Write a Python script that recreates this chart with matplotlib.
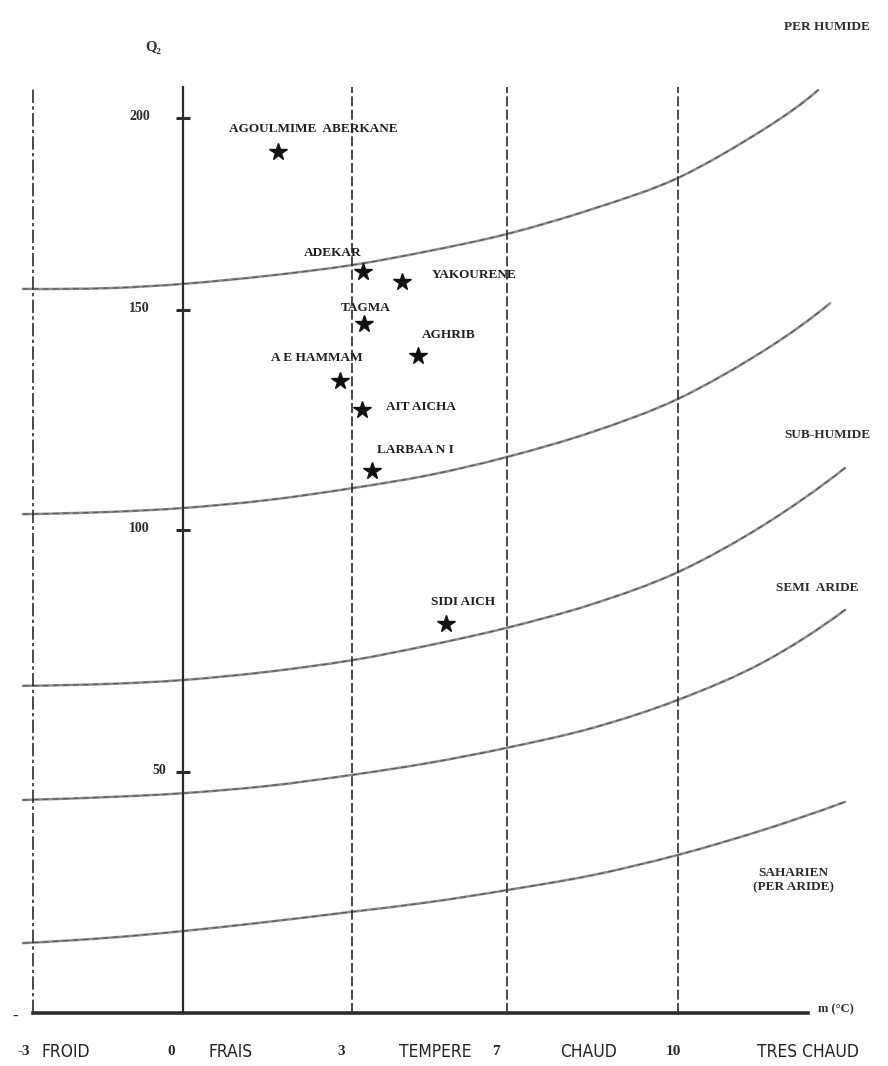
import numpy as np
import matplotlib
matplotlib.use("Agg")
import matplotlib.pyplot as plt
from matplotlib.path import Path
from matplotlib.patches import PathPatch

# ---------------- data ----------------
STATIONS = ["AGOULMIME  ABERKANE", "ADEKAR", "YAKOURENE", "TAGMA", "AGHRIB",
            "A E HAMMAM", "AIT AICHA", "LARBAA N I", "SIDI AICH"]
STATION_M = [1.69, 3.28, 4.29, 3.31, 4.70, 2.79, 3.26, 3.52, 5.43]
STATION_Q = [191.1, 159.9, 157.3, 146.8, 139.5, 133.9, 127.3, 113.4, 80.6]

M_BOUNDS = [-3, 0, 3, 7, 10]
M_TICK_LABELS = ["-3", "0", "3", "7", "10"]
Q_TICKS = [50, 100, 150, 200]
Q_TICK_LABELS = ["50", "100", "150", "200"]
ZONES_M = ["FROID", "FRAIS", "TEMPERE", "CHAUD", "TRES CHAUD"]
ZONES_Q = ["PER HUMIDE", "SUB-HUMIDE", "SEMI  ARIDE", "SAHARIEN\n(PER ARIDE)"]

M_SAMPLE = [-3.2, -1.5, 0.0, 1.5, 3.0, 5.0, 7.0, 8.5, 10.0, 11.5]
CURVE_END_M = [12.46, 12.67, 12.93, 12.93, 12.93]
CURVE_Q = [
    [155.5, 155.7, 156.8, 158.9, 161.7, 165.4, 169.8, 176.3, 184.4, 197.0, 207.3],
    [103.6, 104.1, 105.0, 106.8, 109.5, 112.5, 116.6, 122.3, 129.8, 140.7, 151.8],
    [67.8, 68.2, 69.0, 70.7, 73.1, 76.2, 79.8, 84.7, 91.3, 101.1, 114.1],
    [44.2, 44.8, 45.6, 47.1, 49.4, 51.9, 55.0, 59.1, 64.9, 72.7, 83.5],
    [14.5, 15.6, 17.0, 18.9, 21.0, 23.0, 25.5, 28.6, 32.8, 38.0, 43.8],
]
Q_TOP = 208.0
M_AXIS_END = 12.28

# ---------------- layout ----------------
W, H = 888, 1066
X_KNOT_PX = [33, 183, 352, 507, 678]          # where m = -3,0,3,7,10 sit
Y_KNOT_Q = [0, 50, 100, 150, 200]
Y_KNOT_PX = [1013, 772, 530, 310, 118]


def piecewise(kd, kp):
    kd = np.asarray(kd, float)
    kp = np.asarray(kp, float)

    def f(v, a=kd, b=kp):
        v = np.asarray(v, float)
        out = np.interp(v, a, b)
        s0 = (b[1] - b[0]) / (a[1] - a[0])
        s1 = (b[-1] - b[-2]) / (a[-1] - a[-2])
        out = np.where(v < a[0], b[0] + (v - a[0]) * s0, out)
        out = np.where(v > a[-1], b[-1] + (v - a[-1]) * s1, out)
        return out

    def g(p, a=kd, b=kp):
        return f(p, b, a)
    return f, g


fx, ix = piecewise(M_BOUNDS, X_KNOT_PX)
fy, iy = piecewise(Y_KNOT_Q, [-p for p in Y_KNOT_PX])

plt.rcParams['font.family'] = ['Liberation Serif', 'DejaVu Serif']
fig = plt.figure(figsize=(W / 100, H / 100), dpi=100)
ax = fig.add_axes([0, 0, 1, 1])
ax.set_xscale('function', functions=(fx, ix))
ax.set_yscale('function', functions=(fy, iy))
ax.set_xlim(float(ix(0)), float(ix(W)))
ax.set_ylim(float(iy(-H)), float(iy(0)))
ax.axis('off')

INK = '#2b2b2b'


def smooth_path(xs, ys):
    """Cubic Hermite spline through the read points, built in display space."""
    p = ax.transData.transform(np.column_stack([xs, ys]))
    n = len(p)
    T = np.zeros_like(p)
    T[1:-1] = (p[2:] - p[:-2]) / 2.0
    T[0] = (-3 * p[0] + 4 * p[1] - p[2]) / 2.0
    T[-1] = (3 * p[-1] - 4 * p[-2] + p[-3]) / 2.0
    verts = [p[0]]
    codes = [Path.MOVETO]
    for i in range(n - 1):
        verts += [p[i] + T[i] / 3.0, p[i + 1] - T[i + 1] / 3.0, p[i + 1]]
        codes += [Path.CURVE4] * 3
    return Path(ax.transData.inverted().transform(np.array(verts)), codes)


# curves
for q, mend in zip(CURVE_Q, CURVE_END_M):
    path = smooth_path(M_SAMPLE + [mend], q)
    ax.add_patch(PathPatch(path, fill=False, edgecolor='#8c8c8c', lw=1.8,
                           capstyle='round', transform=ax.transData, zorder=2))
    ax.add_patch(PathPatch(path, fill=False, edgecolor='#555555', lw=0.8,
                           linestyle=(0, (5, 4)), transform=ax.transData, zorder=2))

# vertical boundary lines
styles = [(0, (8, 2, 2, 2)), 'solid', (0, (6, 2)), (0, (6, 2)), (0, (6, 2))]
widths = [1.2, 1.6, 1.2, 1.2, 1.2]
for m, ls, lw in zip(M_BOUNDS, styles, widths):
    ax.plot([m, m], [0, Q_TOP], color=INK, lw=lw, linestyle=ls, zorder=3)

# baseline
ax.plot([M_BOUNDS[0], M_AXIS_END], [0, 0], color=INK, lw=2.6, zorder=3)

# y ticks on m = 0 line
ax.plot([0] * len(Q_TICKS), Q_TICKS, linestyle='none', marker='_',
        markersize=10, mew=2.2, color=INK, zorder=4)
tick_dx = [-12, -24, -24, -24]
for q, lab, dx in zip(Q_TICKS, Q_TICK_LABELS, tick_dx):
    ax.annotate(lab, (0, q), xytext=(dx, 1), textcoords='offset points',
                ha='right', va='center', fontsize=10, fontweight='bold', color=INK)

# stations
ax.plot(STATION_M, STATION_Q, linestyle='none', marker='*', markersize=13,
        color='#111111', zorder=5)
LABEL_OFFSETS = [(25, 17), (-22, 14), (52, 5), (1.5, 11.5), (22, 15),
                 (-16.5, 16.5), (42.5, 2), (31, 15), (12, 16)]
for name, m, q, off in zip(STATIONS, STATION_M, STATION_Q, LABEL_OFFSETS):
    ax.annotate(name, (m, q), xytext=off, textcoords='offset points',
                ha='center', va='center', fontsize=9.5, fontweight='bold',
                color='#1e1e1e', zorder=6)

# x boundary numbers below axis
num_dx = [-7, -8.5, -8, -8, -3]
for m, lab, dx in zip(M_BOUNDS, M_TICK_LABELS, num_dx):
    ax.annotate(lab, (m, 0), xytext=(dx, -28), textcoords='offset points',
                ha='center', va='center', fontsize=11, fontweight='bold', color=INK)


def fpx(x, y):
    return x / W, 1 - y / H


zone_px = [(66, 1052), (231, 1052), (435, 1052), (588, 1052), (808, 1052)]
for lab, (x, y) in zip(ZONES_M, zone_px):
    fig.text(*fpx(x, y), lab, ha='center', va='center',
             fontsize=12.5, family='DejaVu Sans', fontstretch='condensed',
             color='#222222')

zoneq_px = [(827, 27), (827, 435), (817, 588), (793, 880)]
for lab, (x, y) in zip(ZONES_Q, zoneq_px):
    fig.text(*fpx(x, y), lab, ha='center', va='center',
             fontsize=9.5, fontweight='bold', color=INK, linespacing=1.3)

fig.text(*fpx(153, 47), "Q₂", ha='center', va='center', fontsize=10.5,
         fontweight='bold', color=INK)
fig.text(*fpx(836, 1009), "m (°C)", ha='center', va='center', fontsize=9,
         fontweight='bold', color=INK)
fig.text(*fpx(15, 1017), "-", ha='center', va='center', fontsize=12,
         fontweight='bold', color=INK)

fig.savefig("out.png", dpi=100, facecolor='white')
